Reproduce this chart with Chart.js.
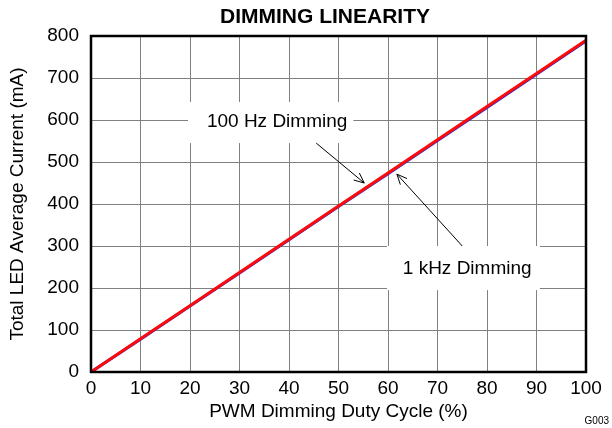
<!DOCTYPE html>
<html>
<head>
<meta charset="utf-8">
<script src="https://cdn.jsdelivr.net/npm/chart.js@4/dist/chart.umd.min.js"></script>
<style>
  html, body { margin: 0; padding: 0; background: #fff; }
  #wrap { width: 612px; height: 428px; }
</style>
</head>
<body>
<div id="wrap"><canvas id="c" width="612" height="428"></canvas></div>
<script>
// ---- data ----
const dutyCycle = [0, 10, 20, 30, 40, 50, 60, 70, 80, 90, 100];
const current100Hz = [0, 78, 157, 236, 315, 394, 472, 551, 630, 709, 788];
const current1kHz = [0, 79, 158, 237, 316, 395, 474, 553, 632, 711, 790];
const xTicks = [0, 10, 20, 30, 40, 50, 60, 70, 80, 90, 100];
const yTicks = [0, 100, 200, 300, 400, 500, 600, 700, 800];
const chartTitle = 'DIMMING LINEARITY';
const xTitle = 'PWM Dimming Duty Cycle (%)';
const yTitle = 'Total LED Average Current (mA)';
const figureId = 'G003';
const labelTexts = ['100 Hz Dimming', '1 kHz Dimming'];

// annotation placement (data units)
const notes = [
  { text: labelTexts[0], box: [19.6, 643, 53.0, 545], tx: 37.6, ty: 595, from: [45.5, 545], to: [55.2, 450] },
  { text: labelTexts[1], box: [59.8, 300, 90.7, 195], tx: 76.0, ty: 245, from: [75.0, 300], to: [61.8, 471] }
];

const FONT = '"Liberation Sans", Arial, sans-serif';

const decor = {
  id: 'decor',
  afterDatasetsDraw(chart) {
    const ctx = chart.ctx;
    const xs = chart.scales.x, ys = chart.scales.y;
    ctx.save();
    notes.forEach(n => {
      const x1 = xs.getPixelForValue(n.box[0]), y1 = ys.getPixelForValue(n.box[1]);
      const x2 = xs.getPixelForValue(n.box[2]), y2 = ys.getPixelForValue(n.box[3]);
      ctx.fillStyle = '#fff';
      ctx.fillRect(x1, y1, x2 - x1, y2 - y1);
      ctx.fillStyle = '#000';
      ctx.font = '19px ' + FONT;
      ctx.textAlign = 'center';
      ctx.textBaseline = 'middle';
      ctx.fillText(n.text, xs.getPixelForValue(n.tx), ys.getPixelForValue(n.ty));
      const ax = xs.getPixelForValue(n.from[0]), ay = ys.getPixelForValue(n.from[1]);
      const bx = xs.getPixelForValue(n.to[0]), by = ys.getPixelForValue(n.to[1]);
      ctx.strokeStyle = '#000';
      ctx.lineWidth = 1;
      ctx.beginPath();
      ctx.moveTo(ax, ay); ctx.lineTo(bx, by); ctx.stroke();
      const ang = Math.atan2(by - ay, bx - ax);
      const L = 11, w = 0.42;
      ctx.beginPath();
      ctx.moveTo(bx - L * Math.cos(ang - w), by - L * Math.sin(ang - w));
      ctx.lineTo(bx, by);
      ctx.lineTo(bx - L * Math.cos(ang + w), by - L * Math.sin(ang + w));
      ctx.stroke();
    });
    ctx.restore();
  },
  afterDraw(chart) {
    const ctx = chart.ctx;
    const a = chart.chartArea;
    ctx.save();
    ctx.strokeStyle = '#000';
    ctx.lineWidth = 2.5;
    ctx.strokeRect(a.left, a.top, a.right - a.left, a.bottom - a.top);
    ctx.fillStyle = '#000';
    ctx.font = 'bold 21px ' + FONT;
    ctx.textAlign = 'center';
    ctx.textBaseline = 'middle';
    ctx.fillText(chartTitle, 325, 17);
    ctx.font = '10px ' + FONT;
    ctx.textAlign = 'right';
    ctx.fillText(figureId, 609, 421);
    ctx.restore();
  }
};

new Chart(document.getElementById('c'), {
  type: 'scatter',
  data: {
    datasets: [
      {
        label: labelTexts[0],
        data: dutyCycle.map((x, i) => ({ x: x, y: current100Hz[i] })),
        showLine: true,
        borderColor: '#2a2ad8',
        borderWidth: 3,
        pointRadius: 0,
        fill: false,
        order: 2
      },
      {
        label: labelTexts[1],
        data: dutyCycle.map((x, i) => ({ x: x, y: current1kHz[i] })),
        showLine: true,
        borderColor: '#ff0a0a',
        borderWidth: 3,
        pointRadius: 0,
        fill: false,
        order: 1
      }
    ]
  },
  options: {
    responsive: false,
    animation: false,
    devicePixelRatio: 1,
    layout: { padding: { left: 0, right: 26, top: 36, bottom: 0 } },
    plugins: {
      legend: { display: false },
      title: { display: false },
      tooltip: { enabled: false }
    },
    scales: {
      x: {
        type: 'linear',
        min: 0, max: 100,
        afterBuildTicks: s => { s.ticks = xTicks.map(v => ({ value: v })); },
        afterFit: s => { s.height = 56; },
        grid: { color: '#808080', lineWidth: 1, drawTicks: false },
        border: { display: false },
        ticks: { color: '#000', font: { family: FONT, size: 19 }, padding: 5, maxRotation: 0 },
        title: { display: true, text: xTitle, color: '#000', font: { family: FONT, size: 19 }, padding: { top: 0, bottom: 5 } }
      },
      y: {
        type: 'linear',
        min: 0, max: 800,
        afterBuildTicks: s => { s.ticks = yTicks.map(v => ({ value: v })); },
        afterFit: s => { s.width = 91; },
        grid: { color: '#808080', lineWidth: 1, drawTicks: false },
        border: { display: false },
        ticks: { color: '#000', font: { family: FONT, size: 19 }, padding: 12 },
        title: { display: true, text: yTitle, color: '#000', font: { family: FONT, size: 19 }, padding: { top: 6, bottom: 0 } }
      }
    }
  },
  plugins: [decor]
});
</script>
</body>
</html>
